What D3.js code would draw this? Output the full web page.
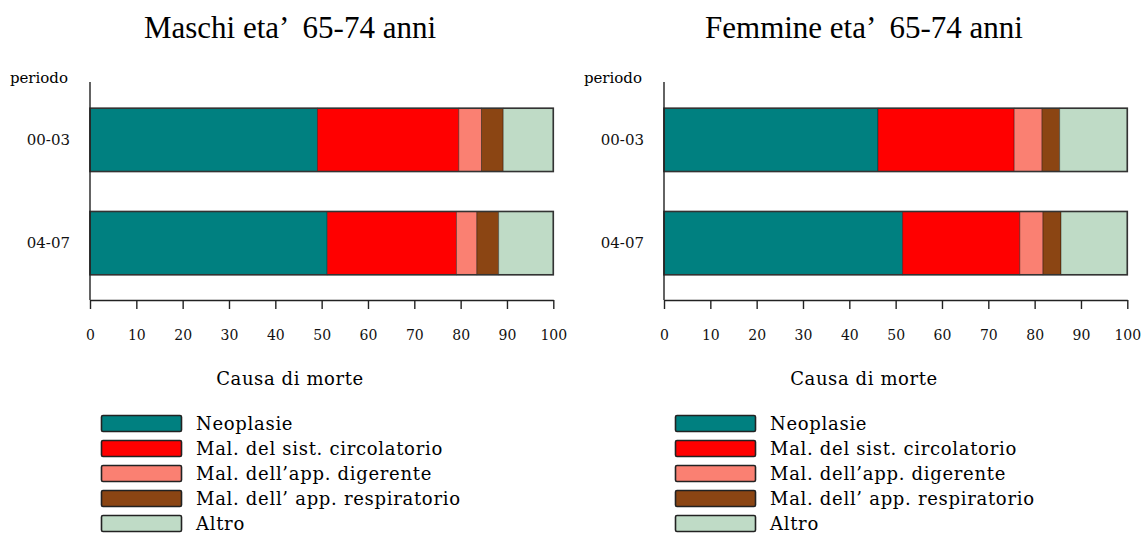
<!DOCTYPE html>
<html>
<head>
<meta charset="utf-8">
<script src="https://cdn.jsdelivr.net/npm/d3@7"></script>
<style>
  body { margin: 0; background: #fff; }
  .tick text { font-family: "DejaVu Serif", serif; }
  .titolo { font-family: "Liberation Serif", "Times New Roman", Times, serif; white-space: pre; }
  .serif { font-family: "DejaVu Serif", serif; }
</style>
</head>
<body>
<script>
// data (percent of deaths)
var periodi = ["00-03", "04-07"];
var cause = ["Neoplasie", "Mal. del sist. circolatorio", "Mal. dell\u2019app. digerente",
             "Mal. dell\u2019 app. respiratorio", "Altro"];
var maschi_0003 = [49.1, 30.5, 4.9, 4.7, 10.8];
var maschi_0407 = [51.2, 27.9, 4.4, 4.7, 11.8];
var femmine_0003 = [46.2, 29.4, 6.0, 3.8, 14.6];
var femmine_0407 = [51.5, 25.3, 5.0, 3.9, 14.3];
var xTicks = [0, 10, 20, 30, 40, 50, 60, 70, 80, 90, 100];
var colori = ["#008080", "#ff0000", "#fa8072", "#8b4513", "#bfdbc6"];

var width = 1143, height = 534;

var svg = d3.select("body").append("svg")
  .attr("width", width)
  .attr("height", height);

function drawPanel(dx, titolo, valori) {
  var g = svg.append("g").attr("transform", "translate(" + dx + ",0)");

  // build rows for the stack
  var rows = periodi.map(function(p, i) {
    var r = {periodo: p};
    cause.forEach(function(c, j) { r[c] = valori[i][j]; });
    return r;
  });
  var series = d3.stack().keys(cause)(rows);

  var x = d3.scaleLinear().domain([0, 100]).range([90, 553.3]);
  var y = d3.scaleBand().domain(periodi).range([82, 301])
    .paddingInner(0.387).paddingOuter(0.254);

  // title
  g.append("text")
    .attr("class", "titolo")
    .attr("x", 290).attr("y", 38)
    .attr("text-anchor", "middle")
    .style("font-size", "31px")
    .text(titolo);

  g.append("text")
    .attr("class", "serif")
    .attr("x", 68).attr("y", 83)
    .attr("text-anchor", "end")
    .style("font-size", "15px")
    .text("periodo");

  // bars
  g.selectAll("g.serie")
    .data(series)
    .enter().append("g")
      .attr("class", "serie")
      .attr("fill", function(d, i) { return colori[i]; })
    .selectAll("rect")
    .data(function(d) { return d; })
    .enter().append("rect")
      .attr("x", function(d) { return x(d[0]); })
      .attr("width", function(d) { return x(d[1]) - x(d[0]); })
      .attr("y", function(d) { return y(d.data.periodo); })
      .attr("height", y.bandwidth())
      .attr("stroke", "rgba(0,0,0,0.35)")
      .attr("stroke-width", 1);

  // outline around each bar
  g.selectAll("rect.bordo")
    .data(periodi)
    .enter().append("rect")
      .attr("class", "bordo")
      .attr("x", x(0))
      .attr("width", x(100) - x(0))
      .attr("y", function(d) { return y(d); })
      .attr("height", y.bandwidth())
      .attr("fill", "none")
      .attr("stroke", "#333")
      .attr("stroke-width", 1.6);

  // Add the X Axis
  var xAxis = g.append("g")
    .attr("transform", "translate(0,300)")
    .call(d3.axisBottom(x).tickValues(xTicks).tickSize(9).tickSizeOuter(0).tickPadding(21));
  xAxis.selectAll("text").style("font-size", "14px").attr("fill", "#111");
  xAxis.selectAll("line, path").attr("stroke", "#222").attr("stroke-width", 1.4);

  // Add the Y Axis
  var yAxis = g.append("g")
    .attr("transform", "translate(90,0)")
    .call(d3.axisLeft(y).tickSize(0).tickPadding(20));
  yAxis.select("path").attr("d", "M0,82V300").attr("stroke", "#222").attr("stroke-width", 1.4);
  yAxis.selectAll("text").style("font-size", "15px").attr("fill", "#111");

  g.append("text")
    .attr("class", "serif")
    .attr("x", 290).attr("y", 385)
    .attr("text-anchor", "middle")
    .style("font-size", "18px")
    .style("letter-spacing", "0.6px")
    .text("Causa di morte");

  // legend
  var leg = g.selectAll("g.leg")
    .data(cause)
    .enter().append("g")
      .attr("class", "leg")
      .attr("transform", function(d, i) { return "translate(0," + (423.5 + i * 25) + ")"; });
  leg.append("rect")
    .attr("x", 101.5).attr("y", -8)
    .attr("width", 80).attr("height", 16)
    .attr("fill", function(d, i) { return colori[i]; })
    .attr("stroke", "#222").attr("stroke-width", 1.6).attr("rx", 1.5);
  leg.append("text")
    .attr("class", "serif")
    .attr("x", 196).attr("y", 6)
    .style("font-size", "18px")
    .style("letter-spacing", "0.7px")
    .text(function(d) { return d; });
}

drawPanel(0, "Maschi eta\u2019  65-74 anni", [maschi_0003, maschi_0407]);
drawPanel(574, "Femmine eta\u2019  65-74 anni", [femmine_0003, femmine_0407]);
</script>
</body>
</html>
